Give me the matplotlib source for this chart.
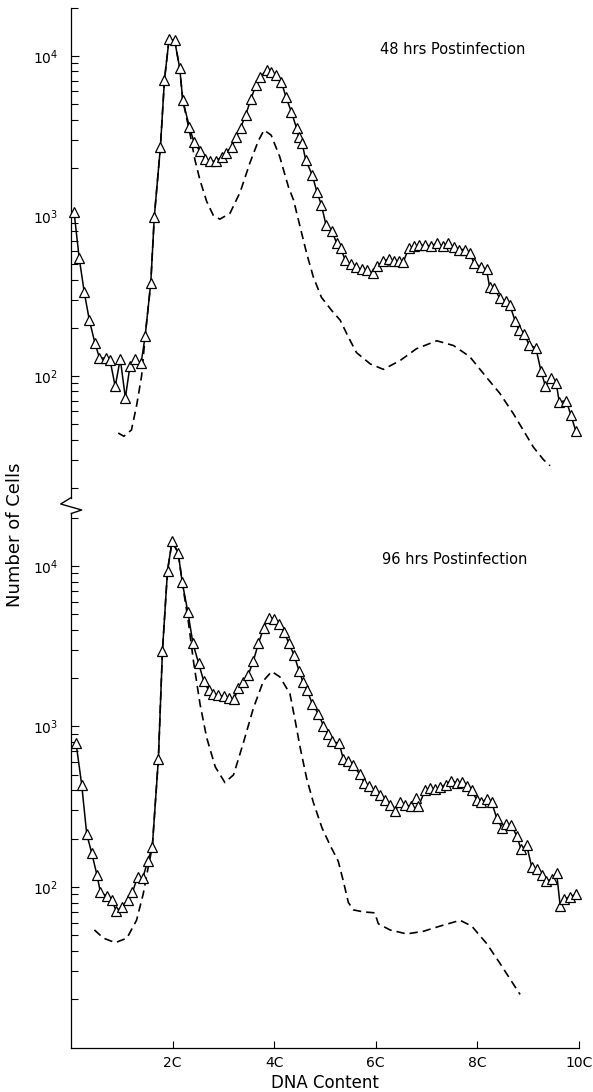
import numpy as np
import matplotlib
matplotlib.use("Agg")
import matplotlib.pyplot as plt
from matplotlib.ticker import FixedLocator, LogLocator, NullFormatter, FuncFormatter
from matplotlib.lines import Line2D

plt.rcParams['font.family'] = ['DejaVu Sans']

# ---------------- data ----------------
x_ticks = [2, 4, 6, 8, 10]
x_tick_labels = ['2C', '4C', '6C', '8C', '10C']
y_major = [1e2, 1e3, 1e4]

panel_titles = ['48 hrs Postinfection', '96 hrs Postinfection']
x_label = 'DNA Content'
y_label = 'Number of Cells'

# 48 hrs: measured (triangles)
x48 = [0.06, 0.16, 0.26, 0.36, 0.47, 0.56, 0.68, 0.77, 0.87, 0.97, 1.07, 1.16, 1.26, 1.38, 1.46,
       1.57, 1.64, 1.76, 1.84, 1.93, 2.04, 2.14, 2.20, 2.33, 2.42, 2.53, 2.64, 2.74, 2.85, 2.97,
       3.05, 3.16, 3.25, 3.34, 3.44, 3.54, 3.64, 3.73, 3.85, 3.94, 4.04, 4.14, 4.23, 4.34, 4.44,
       4.48, 4.55, 4.62, 4.75, 4.84, 4.93, 5.02, 5.14, 5.23, 5.31, 5.40, 5.51, 5.61, 5.72, 5.83,
       5.94, 6.03, 6.15, 6.25, 6.36, 6.46, 6.54, 6.65, 6.75, 6.86, 6.97, 7.08, 7.20, 7.32, 7.43,
       7.54, 7.64, 7.76, 7.85, 7.93, 8.07, 8.18, 8.24, 8.33, 8.44, 8.56, 8.64, 8.74, 8.82, 8.92,
       9.02, 9.15, 9.25, 9.34, 9.45, 9.55, 9.61, 9.75, 9.84, 9.94]
y48 = [1060, 550, 335, 224, 161, 130, 129, 125, 86, 128, 73, 115, 128, 120, 178,
       380, 990, 2700, 7100, 12700, 12500, 8400, 5300, 3600, 2900, 2560, 2260, 2200, 2200, 2350,
       2480, 2700, 3100, 3560, 4300, 5350, 6600, 7400, 8200, 7900, 7600, 6900, 5560, 4450, 3540,
       3130, 2850, 2240, 1800, 1415, 1170, 876, 803, 674, 627, 528, 500, 480, 463, 458,
       440, 490, 521, 537, 521, 521, 515, 631, 647, 656, 656, 650, 675, 650, 675,
       640, 617, 617, 588, 510, 480, 463, 360, 357, 305, 293, 277, 222, 193, 184,
       156, 150, 108, 86, 97, 91, 69, 70, 57, 45]

# 48 hrs: dashed curve
x48d = [0.93, 1.04, 1.19, 1.29, 1.39, 1.46, 1.57, 1.64, 1.76, 1.84, 1.93, 2.04, 2.14, 2.20,
        2.34, 2.44, 2.54, 2.67, 2.80, 2.93, 3.13, 3.33, 3.52, 3.69, 3.80, 3.94, 4.11, 4.28,
        4.38, 4.51, 4.64, 4.77, 4.93, 5.13, 5.30, 5.46, 5.62, 5.89, 6.15, 6.48, 6.80, 7.20,
        7.53, 7.85, 8.18, 8.44, 8.71, 8.90, 9.10, 9.30, 9.43]
y48d = [44, 42, 46, 65, 100, 178, 380, 990, 2700, 7100, 12700, 12500, 8400, 5300,
        3300, 2240, 1670, 1235, 1010, 955, 1040, 1410, 2140, 2960, 3440, 3200, 2340, 1520,
        1260, 855, 582, 416, 310, 257, 223, 175, 140, 119, 110, 125, 148, 166,
        155, 132, 98, 78, 58, 46, 36, 30, 27.5]

# 96 hrs: measured (triangles)
x96 = [0.10, 0.21, 0.31, 0.41, 0.51, 0.58, 0.70, 0.80, 0.89, 1.00, 1.12, 1.21, 1.31, 1.41, 1.51,
       1.60, 1.72, 1.80, 1.90, 1.99, 2.11, 2.19, 2.30, 2.40, 2.51, 2.61, 2.71, 2.80, 2.90, 3.01,
       3.12, 3.21, 3.29, 3.39, 3.49, 3.59, 3.69, 3.79, 3.89, 3.99, 4.09, 4.19, 4.29, 4.39, 4.49,
       4.57, 4.65, 4.75, 4.87, 4.97, 5.05, 5.14, 5.28, 5.36, 5.46, 5.55, 5.68, 5.77, 5.87, 5.98,
       6.08, 6.18, 6.28, 6.38, 6.48, 6.57, 6.69, 6.79, 6.84, 6.97, 7.07, 7.17, 7.26, 7.38, 7.48,
       7.59, 7.70, 7.80, 7.89, 7.99, 8.08, 8.18, 8.28, 8.38, 8.48, 8.56, 8.67, 8.77, 8.86, 8.97,
       9.07, 9.17, 9.27, 9.36, 9.46, 9.56, 9.63, 9.71, 9.82, 9.94]
y96 = [785, 435, 213, 162, 119, 92.5, 88, 83, 71, 75, 83, 92.5, 116, 113, 145,
       177, 627, 2950, 9370, 14250, 12040, 7900, 5180, 3300, 2490, 1930, 1680, 1590, 1560, 1540,
       1515, 1475, 1725, 1880, 2100, 2560, 3300, 4080, 4750, 4700, 4370, 3900, 3300, 2790, 2220,
       1880, 1680, 1380, 1200, 1010, 904, 807, 785, 627, 610, 576, 506, 447, 423, 400,
       373, 347, 323, 297, 337, 323, 319, 361, 319, 400, 416, 406, 418, 435, 460,
       447, 452, 423, 400, 347, 337, 353, 337, 269, 234, 248, 243, 209, 172, 182,
       133, 130, 119, 109, 112, 122, 76, 84, 87, 90]

# 96 hrs: dashed curve
x96d = [0.46, 0.64, 0.87, 1.10, 1.29, 1.42, 1.52, 1.60, 1.72, 1.80, 1.90, 1.99, 2.11, 2.19,
        2.31, 2.41, 2.54, 2.67, 2.84, 3.03, 3.20, 3.39, 3.59, 3.79, 3.95, 4.11, 4.31, 4.41,
        4.51, 4.64, 4.77, 4.94, 5.10, 5.26, 5.36, 5.46, 5.56, 5.75, 5.98, 6.05, 6.28, 6.61,
        6.94, 7.26, 7.66, 7.89, 8.18, 8.44, 8.64, 8.84]
y96d = [54, 48, 45, 48, 62, 90, 133, 177, 627, 2950, 9370, 14250, 12040, 7900,
        4500, 2560, 1380, 853, 560, 447, 500, 785, 1300, 1930, 2200, 2040, 1600, 1100,
        741, 473, 337, 234, 182, 145, 109, 80, 72, 70, 69, 59, 54, 51,
        53, 57, 62, 57, 44.5, 33.6, 26.8, 21.4]

# ---------------- figure ----------------
W, H = 593, 1092
fig = plt.figure(figsize=(W / 100, H / 100), dpi=100)
fig.patch.set_facecolor('white')

left = 71 / W
width = 508 / W
axT = fig.add_axes([left, (H - 498) / H, width, (498 - 7.8) / H])
axB = fig.add_axes([left, (H - 1047.5) / H, width, (1047.5 - 513) / H])

fmt = FuncFormatter(lambda v, p: r'$\mathregular{10^{%d}}$' % int(round(np.log10(v))))

def style(ax, bottom):
    ax.set_yscale('log')
    ax.set_xlim(0, 10)
    for s in ['top', 'right']:
        ax.spines[s].set_visible(False)
    ax.spines['left'].set_linewidth(0.9)
    ax.yaxis.set_major_locator(FixedLocator(y_major))
    ax.yaxis.set_minor_locator(LogLocator(base=10, subs=np.arange(2, 10), numticks=30))
    ax.yaxis.set_major_formatter(fmt)
    ax.yaxis.set_minor_formatter(NullFormatter())
    ax.tick_params(axis='y', which='major', direction='in', length=6, width=0.8,
                   pad=9, labelsize=10)
    ax.tick_params(axis='y', which='minor', direction='in', length=5, width=0.8)
    if bottom:
        ax.spines['bottom'].set_linewidth(0.9)
        ax.set_xticks(x_ticks)
        ax.set_xticklabels(x_tick_labels)
        ax.xaxis.set_minor_locator(FixedLocator([]))
        ax.tick_params(axis='x', which='major', direction='in', length=5, width=0.8,
                       pad=6, labelsize=10)
    else:
        ax.spines['bottom'].set_visible(False)
        ax.set_xticks([])

style(axT, False)
style(axB, True)
axT.set_ylim(10 ** 1.2375, 2e4)
axB.set_ylim(10, 10 ** 4.33)

for ax, xs, ys, xd, yd in [(axT, x48, y48, x48d, y48d), (axB, x96, y96, x96d, y96d)]:
    ax.plot(xd, yd, color='black', lw=1.2, linestyle=(0, (5, 3)), zorder=2)
    ax.plot(xs, ys, color='black', lw=1.1, marker='^', ms=7, mfc='white', mec='black',
            mew=0.9, zorder=3, clip_on=False)

fig.text(453 / W, 1 - 50 / H, panel_titles[0], ha='center', va='center', fontsize=10.5)
fig.text(455 / W, 1 - 560 / H, panel_titles[1], ha='center', va='center', fontsize=10.5)
fig.text(15 / W, 1 - 535 / H, y_label, rotation=90, ha='center', va='center', fontsize=13)
fig.text(325 / W, 1 - 1083 / H, x_label, ha='center', va='center', fontsize=12)

# axis break zig-zag
zx = [71.3, 60.7, 81.7, 71.3]
zy = [497.5, 504, 510, 513.5]
fig.add_artist(Line2D([v / W for v in zx], [1 - v / H for v in zy],
                      transform=fig.transFigure, color='black', lw=1.0))

fig.savefig('out.png', dpi=100, facecolor='white')
